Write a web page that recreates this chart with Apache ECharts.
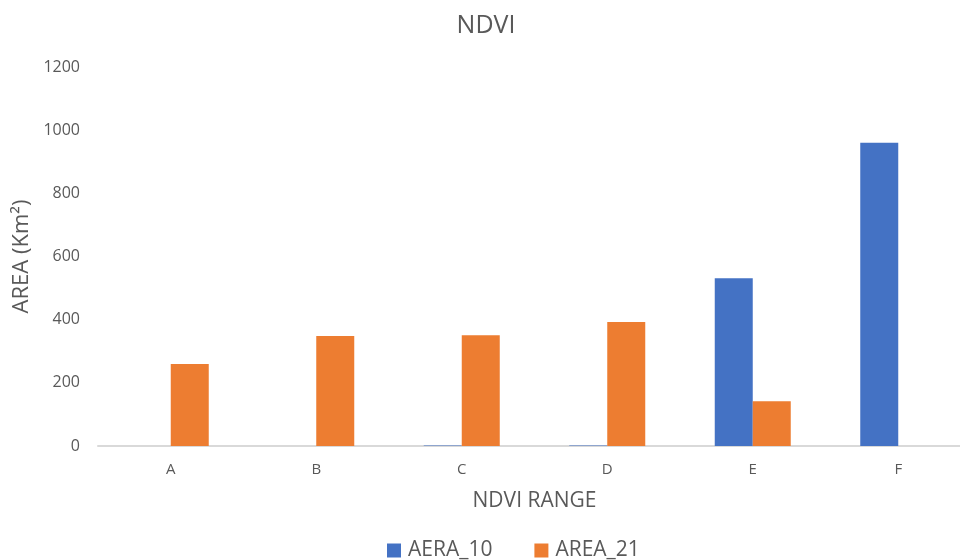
<!DOCTYPE html>
<html>
<head>
<meta charset="utf-8">
<script src="https://cdn.jsdelivr.net/npm/echarts@6/dist/echarts.min.js"></script>
<style>html,body{margin:0;padding:0;background:#fff;overflow:hidden;width:960px;height:560px}#c{width:972px;height:560px}</style>
</head>
<body>
<div id="c"></div>
<script>
const categories = ['A', 'B', 'C', 'D', 'E', 'F'];
const aera10 = [0, 0, 1.5, 1.5, 531, 960];
const area21 = [260, 348, 351, 393, 142, 0];
const yTicks = [0, 200, 400, 600, 800, 1000, 1200];

const FONT = '"Open Sans", "Liberation Sans", sans-serif';
const GREY = '#595959';
const chart = echarts.init(document.getElementById('c'));
chart.setOption({
  animation: false,
  title: {
    text: 'NDVI', left: 'center', top: 8,
    textStyle: { fontFamily: FONT, fontSize: 25, fontWeight: 'normal', color: GREY }
  },
  legend: {
    top: 535, left: 382, itemWidth: 14, itemHeight: 14, itemGap: 42,
    icon: 'rect',
    textStyle: { fontFamily: FONT, fontSize: 21, color: GREY, padding: [0, 0, 0, 2] },
    data: ['AERA_10', 'AREA_21']
  },
  grid: { left: 98, right: 1, top: 67, bottom: 114 },
  xAxis: {
    type: 'category', data: categories,
    name: 'NDVI RANGE', nameLocation: 'middle', nameGap: 45,
    nameTextStyle: { fontFamily: FONT, fontSize: 21, color: GREY },
    axisLine: { lineStyle: { color: '#d9d9d9', width: 2 } },
    axisTick: { show: false },
    axisLabel: { fontFamily: FONT, fontSize: 15, color: GREY, margin: 16 }
  },
  yAxis: {
    type: 'value', min: yTicks[0], max: yTicks[yTicks.length - 1], interval: 200,
    name: 'AREA (Km²)', nameLocation: 'middle', nameGap: 64, nameRotate: 90,
    nameTextStyle: { fontFamily: FONT, fontSize: 22, color: GREY },
    axisLine: { show: false }, axisTick: { show: false },
    splitLine: { show: false },
    axisLabel: { fontFamily: FONT, fontSize: 16, color: GREY, margin: 18,
      formatter: v => String(v) }
  },
  series: [
    { name: 'AERA_10', type: 'bar', data: aera10, barWidth: 38, barGap: '0%',
      itemStyle: { color: '#4472c4' } },
    { name: 'AREA_21', type: 'bar', data: area21, barWidth: 38, barGap: '0%',
      itemStyle: { color: '#ed7d31' } }
  ]
});
</script>
</body>
</html>
